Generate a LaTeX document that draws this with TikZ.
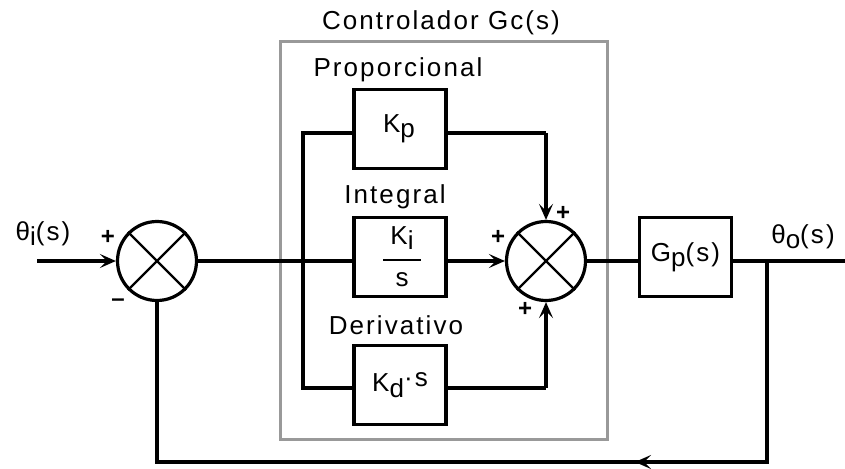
\documentclass[tikz,border=0pt]{standalone}
\usepackage{fontspec}
\setmainfont{Liberation Sans}[LetterSpace=8]
\usetikzlibrary{arrows.meta}
\newcommand{\lo}[1]{\raisebox{-0.2em}{#1}}
\newcommand{\hi}[1]{\raisebox{0.2em}{#1}}
\begin{document}
\begin{tikzpicture}[x=1pt,y=-1pt,
  blk/.style={draw, line width=3.2pt, minimum width=92pt, minimum height=79pt, inner sep=0pt},
  sumj/.style={draw, circle, line width=3.2pt, minimum size=79pt, inner sep=0pt},
  wire/.style={line width=3.2pt},
  xline/.style={line width=2.4pt},
  arr/.style={wire, -{Stealth[length=16pt,width=14pt,inset=7pt]}},
  lbl/.style={inner sep=0pt, font=\fontsize{26}{30}\selectfont},
  sgn/.style={inner sep=0pt, font=\fontsize{24}{28}\selectfont\bfseries},
  grp/.style={draw=black!40, line width=3pt}]
\useasboundingbox (0,0) rectangle (845,468);
% controller frame
\node[grp, minimum width=327pt, minimum height=397pt, inner sep=0pt] (frame) at (443.5,240.5) {};
\node[lbl] (title) at (441,23) {Controlador Gc(s)};
% junctions
\node[sumj] (s1) at (157,261) {};
\draw[xline] (s1.north west) -- (s1.south east) (s1.north east) -- (s1.south west);
\node[sumj] (s2) at (546,261) {};
\draw[xline] (s2.north west) -- (s2.south east) (s2.north east) -- (s2.south west);
% blocks
\node[blk] (kp) at (400,129) {};
\node[lbl] (kpt) at (399,129) {K\lo{p}};
\node[lbl] (tp) at (398,70) {Proporcional};
\node[blk] (ki) at (400,257) {};
\node[lbl] (kit) at (402,238) {K\lo{i}};
\node[lbl] (kis) at (402,280) {s};
\coordinate (fl) at (383,260);
\coordinate (fr) at (421,260);
\draw[line width=2pt] (fl) -- (fr);
\node[lbl] (ti) at (395,197) {Integral};
\node[blk] (kd) at (400,385) {};
\node[lbl] (kdt) at (400,385) {K\lo{d}\hi{·s}};
\node[lbl] (td) at (396,325) {Derivativo};
\node[blk] (gp) at (685.5,257) {};
\node[lbl] (gpt) at (685.5,257) {G\lo{p}(s)};
% signals
\coordinate (in) at (37,261);
\coordinate (out) at (845,261);
\coordinate (b1) at (303,133);
\coordinate (b2) at (303,388);
\coordinate (r1) at (546,133);
\coordinate (r2) at (546,388);
\coordinate (fb1) at (767,261);
\coordinate (fb2) at (767,462);
\coordinate (fb3) at (157,462);
\coordinate (fa) at (700,462);
\coordinate (fat) at (635,462);
\node[lbl] (thi) at (43,234) {θ\lo{i}(s)};
\node[lbl] (tho) at (803,237) {θ\lo{o}(s)};
\draw[arr] (in) -- (s1.west);
\draw[wire] (s1.east) -- (s1.east -| ki.west);
\draw[wire] (b1 -| kp.west) -- (b1) -- (b2) -- (b2 -| kd.west);
\draw[wire] (b1 -| kp.east) -- (r1);
\draw[arr] (r1) -- (s2.north);
\draw[wire] (b2 -| kd.east) -- (r2);
\draw[arr] (r2) -- (s2.south);
\draw[arr] (s2.west -| ki.east) -- (s2.west);
\draw[wire] (s2.east) -- (s2.east -| gp.west);
\draw[wire] (s2.east -| gp.east) -- (out);
\draw[wire] (fb1) -- (fb2) -- (fb3) -- (s1.south);
\draw[arr] (fa) -- (fat);
% signs
\node[sgn] (p1) at (108,237) {+};
\node[sgn] (m1) at (118,303) {–};
\node[sgn] (p2) at (563,213) {+};
\node[sgn] (p3) at (498,237) {+};
\node[sgn] (p4) at (525,309) {+};
\end{tikzpicture}
\end{document}
